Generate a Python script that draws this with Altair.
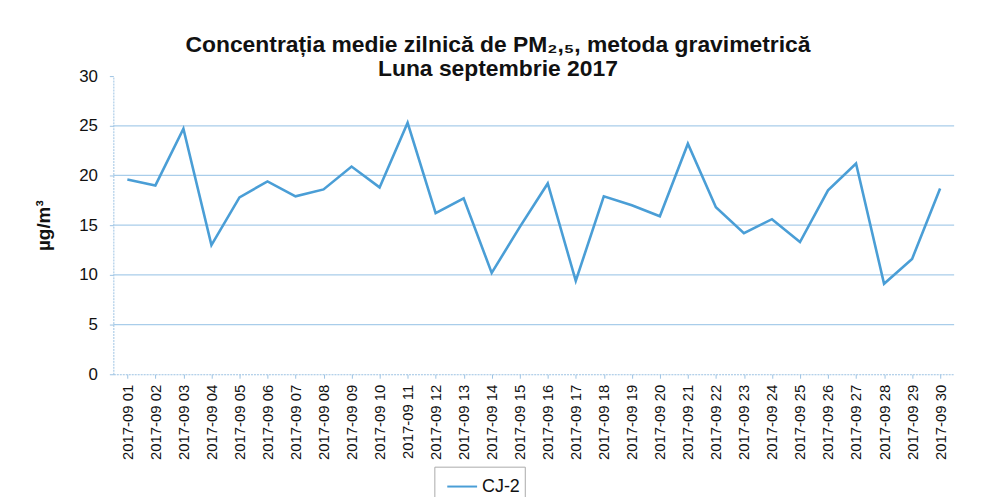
import altair as alt
import pandas as pd

days = [f"2017-09 {d:02d}" for d in range(1, 31)]
values = [19.6, 19.0, 24.7, 13.0, 17.8, 19.4, 17.9, 18.6, 20.9, 18.8,
          25.3, 16.2, 17.7, 10.2, 14.8, 19.2, 9.4, 17.9, 17.0, 15.9,
          23.2, 16.8, 14.2, 15.6, 13.3, 18.5, 21.2, 9.1, 11.6, 18.7]
series = ["CJ-2"] * 30
grid_values = [5, 10, 15, 20, 25]
tick_values = [0, 5, 10, 15, 20, 25, 30]

df = pd.DataFrame({"day": days, "value": values, "series": series})
gdf = pd.DataFrame({"g": grid_values})

yscale = alt.Scale(domain=[0, 30], nice=False)
yaxis = alt.Axis(values=tick_values, labelFont="Liberation Sans",
                 labelFontSize=17, labelColor="#111", labelPadding=12,
                 grid=False, domainColor="#9cc3e3",
                 domainDash=[2, 1], tickColor="#9cc3e3", tickSize=4,
                 titleFont="Liberation Sans", titleFontSize=19, titleFontWeight="bold",
                 titleColor="#111", titlePadding=25)

grid = alt.Chart(gdf).mark_rule(color="#a9cdea", strokeWidth=1.3).encode(
    y=alt.Y("g:Q", scale=yscale, title="µg/m³", axis=yaxis),
)

line = alt.Chart(df).mark_line(strokeWidth=2.6).encode(
    x=alt.X("day:N", sort=days, title=None,
            scale=alt.Scale(paddingInner=0, paddingOuter=0.5),
            axis=alt.Axis(labelAngle=-90, labelFont="Liberation Sans", labelFontSize=15,
                          labelColor="#111", labelPadding=6, grid=False,
                          domainColor="#9cc3e3", domainDash=[2, 1], tickColor="#9cc3e3",
                          tickSize=4, labelBaseline="middle")),
    y=alt.Y("value:Q", title="µg/m³", scale=yscale, axis=yaxis),
    color=alt.Color("series:N", title=None,
                    scale=alt.Scale(range=["#4a9ed6"]),
                    legend=alt.Legend(orient="none", legendX=323, legendY=393,
                                      labelFont="Liberation Sans", labelFontSize=18,
                                      labelColor="#111", symbolType="stroke",
                                      symbolSize=900, symbolStrokeWidth=2,
                                      strokeColor="#aaaaaa", padding=4,
                                      symbolOffset=8, labelOffset=4)),
)

chart = alt.layer(grid, line).properties(
    width=846, height=300,
    autosize=alt.AutoSizeParams(type="none"),
    padding={"left": 106, "top": 67, "right": 20, "bottom": 122},
    title=alt.TitleParams(
        text=["Concentrația medie zilnică de PM₂,₅, metoda gravimetrică", "Luna septembrie 2017"],
        font="Liberation Sans", fontSize=23, fontWeight="bold", color="#111",
        anchor="middle", frame="group", dx=-36, offset=-14, lineHeight=24),
).configure(background="white").configure_view(stroke=None)

chart.save("out.html", embed_options={"renderer": "svg", "actions": False})
